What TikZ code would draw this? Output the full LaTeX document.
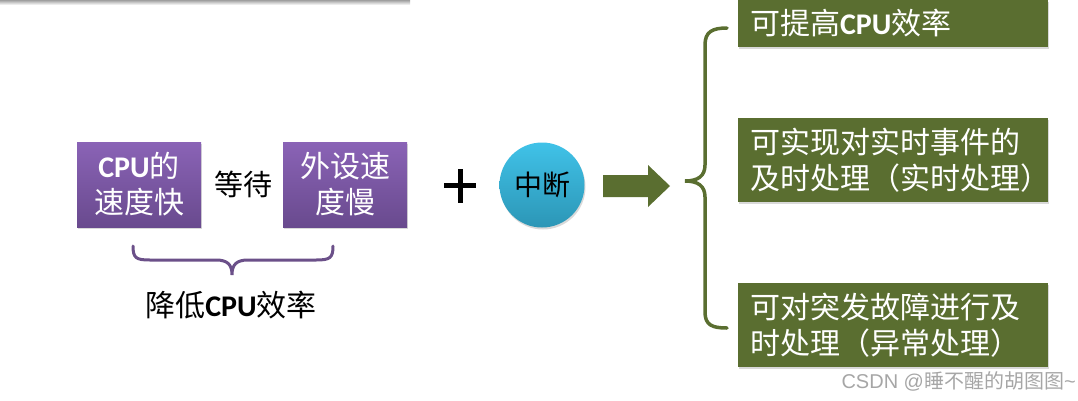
\documentclass[tikz,border=0pt]{standalone}
\usepackage{fontspec}
\setmainfont{Noto Sans CJK SC}
\newfontfamily\latfont{Carlito}
\newfontfamily\wmfont{Liberation Sans}
\usetikzlibrary{shadows}
\definecolor{ptop}{HTML}{8A63B6}
\definecolor{pbot}{HTML}{694A8E}
\definecolor{pline}{HTML}{6B5089}
\definecolor{ggreen}{HTML}{5A6E30}
\definecolor{btop}{HTML}{40C2E8}
\definecolor{bbot}{HTML}{2C96B6}
\newcommand{\cpu}{{\latfont\bfseries CPU}}

\begin{document}
\begin{tikzpicture}[x=1pt,y=-1pt]
        \tikzstyle{pbox} = [rectangle, top color=ptop, bottom color=pbot, text=white,
            minimum width=124pt, minimum height=85pt, inner sep=0pt, align=center,
            font=\fontsize{30}{36}\selectfont,
            drop shadow={opacity=0.3, shadow xshift=1pt, shadow yshift=-2pt}]
        \tikzstyle{gbox} = [rectangle, fill=ggreen, text=white, minimum width=310pt,
            text width=286pt, inner xsep=12pt, inner ysep=0pt, align=left,
            font=\fontsize{30}{36}\selectfont,
            drop shadow={opacity=0.3, shadow xshift=1pt, shadow yshift=-2pt}]
        \useasboundingbox (0,0) rectangle (1078,400);
        \shade[top color=gray!75, bottom color=gray!15] (0,0) rectangle (410,4);

        \node[pbox] (fast) at (139,184.5) {\cpu 的\\速度快};
        \node[font=\fontsize{29}{36}\selectfont] (wait) at (243,184) {等待};
        \node[pbox] (slow) at (345,184.5) {外设速\\度慢};
        \draw[pline, line width=3pt, line cap=round]
            (133,246) .. controls (133,258) and (136,260) .. (150,260) -- (216,260)
            .. controls (228,260) and (232,265) .. (232,275)
            .. controls (232,265) and (236,260) .. (248,260) -- (316,260)
            .. controls (330,260) and (333,258) .. (333,246);
        \node[font=\fontsize{30}{36}\selectfont] (low) at (231,305) {降低\cpu 效率};

        \draw[line width=5pt] (444,185.5) -- (476,185.5) (460,169) -- (460,203);
        \node[circle, minimum size=85pt, inner sep=0pt, top color=btop, bottom color=bbot,
            font=\fontsize{28}{30}\selectfont,
            drop shadow={opacity=0.3, shadow xshift=1pt, shadow yshift=-2pt}] (irq) at (542,185) {中断};
        \fill[ggreen] (603,175) -- (648,175) -- (648,165) -- (670,186) -- (648,207)
            -- (648,197) -- (603,197) -- cycle;

        \draw[ggreen, line width=3.5pt, line cap=round]
            (727,28) .. controls (712,28) and (705,32) .. (705,45) -- (705,165)
            .. controls (705,176) and (698,181) .. (685,181)
            .. controls (698,181) and (705,186) .. (705,197) -- (705,312)
            .. controls (705,325) and (712,328) .. (727,328);

        \node[gbox, minimum height=47pt] (eff) at (893,23.5) {可提高\cpu 效率};
        \node[gbox, minimum height=84pt] (real) at (893,160) {可实现对实时事件的\\及时处理（实时处理）};
        \node[gbox, minimum height=84pt] (fault) at (893,325) {可对突发故障进行及\\时处理（异常处理）};

        \node[text=gray!70, font=\fontsize{20}{24}\selectfont, anchor=west] (mark) at (838,381)
            {{\wmfont CSDN @}睡不醒的胡图图{\wmfont\textasciitilde}};
\end{tikzpicture}
\end{document}
